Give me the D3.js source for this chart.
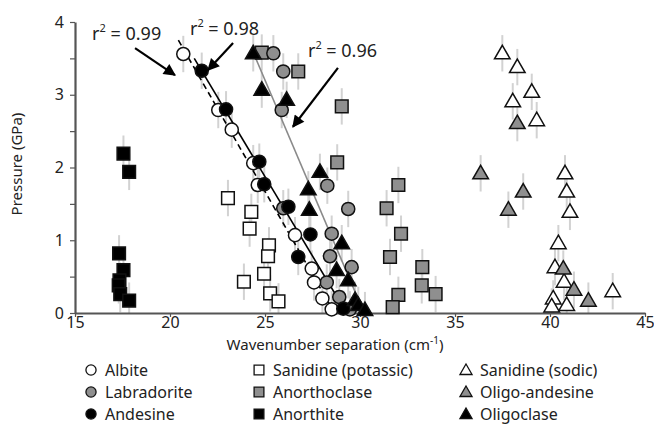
<!DOCTYPE html>
<html>
<head>
<meta charset="utf-8">
<script src="https://cdn.jsdelivr.net/npm/d3@7"></script>
<style>
  body { margin: 0; background: #fff; }
  svg { display: block; font-family: "Noto Sans", "Open Sans", sans-serif; }
</style>
</head>
<body>
<div id="chart"></div>
<script>
// ====== data (wavenumber cm-1, pressure GPa) ======
const albite = [[20.70,3.56],[22.54,2.79],[23.25,2.52],[24.38,2.06],[24.62,1.76],[26.58,1.07],[27.46,0.61],[27.58,0.42],[28.02,0.20],[28.51,0.05]];
const labradorite = [[25.44,3.57],[25.96,3.32],[25.88,2.79],[28.28,1.75],[29.38,1.43],[25.96,1.44],[28.51,1.09],[28.42,0.78],[29.56,0.63],[28.25,0.42],[28.91,0.22],[29.47,0.05]];
const andesine = [[21.67,3.33],[22.95,2.80],[24.70,2.08],[24.96,1.77],[26.23,1.46],[27.39,1.08],[26.75,0.77],[29.12,0.06]];
const sanidineK = [[23.05,1.58],[24.28,1.39],[24.19,1.16],[25.21,0.93],[25.16,0.78],[24.95,0.54],[23.89,0.43],[25.27,0.27],[25.71,0.16]];
const anorthoclase = [[24.83,3.58],[26.75,3.32],[29.04,2.84],[28.80,2.07],[32.02,1.76],[31.40,1.44],[32.16,1.09],[31.58,0.77],[33.28,0.63],[33.25,0.38],[33.98,0.26],[32.02,0.25],[31.72,0.08]];
const anorthite = [[17.55,2.19],[17.85,1.94],[17.32,0.82],[17.55,0.59],[17.34,0.45],[17.30,0.38],[17.38,0.26],[17.85,0.17]];
const sanidineNa = [[37.49,3.57],[38.28,3.38],[39.04,3.04],[38.04,2.91],[39.30,2.65],[40.79,1.92],[40.88,1.67],[41.05,1.39],[40.44,0.96],[40.26,0.63],[40.74,0.43],[43.30,0.30],[40.17,0.20],[40.09,0.09],[40.88,0.11]];
const oligoAndesine = [[38.28,2.61],[36.35,1.92],[38.59,1.67],[37.81,1.42],[40.70,0.61],[41.26,0.32],[42.02,0.17]];
const oligoclase = [[24.38,3.57],[24.83,3.07],[26.14,2.93],[27.89,1.94],[27.28,1.70],[27.33,1.42],[29.04,0.96],[28.77,0.59],[29.38,0.45],[29.74,0.18],[29.91,0.11],[30.26,0.04]];

const errPressure = 0.25;   // half length of the grey error bars (GPa)

// regression lines: series, top pressure of the drawn line, style
const fits = [
  { data: albite,     top: 3.75, stroke: "#000", dash: "6,4" },
  { data: andesine,   top: 3.50, stroke: "#000", dash: null },
  { data: oligoclase, top: 3.60, stroke: "#8a8a8a", dash: null }
];

// r² annotations: text anchor + arrow (data coords)
const notes = [
  { r2: "0.99", tx: 15.9, ty: 3.75, from: [18.16,3.64], to: [20.26,3.27] },
  { r2: "0.98", tx: 21.05, ty: 3.82, from: [23.32,3.71], to: [22.00,3.34] },
  { r2: "0.96", tx: 27.26, ty: 3.52, from: [28.84,3.37], to: [26.47,2.56] }
];

const xTicks = [15, 20, 25, 30, 35, 40, 45];
const yTicks = [0, 0.5, 1, 1.5, 2, 2.5, 3, 3.5, 4];

const GREY = "#8f8f8f";
const series = [
  { name: "Albite",               data: albite,        shape: "circle",   fill: "#fff" },
  { name: "Labradorite",          data: labradorite,   shape: "circle",   fill: GREY },
  { name: "Andesine",             data: andesine,      shape: "circle",   fill: "#000" },
  { name: "Sanidine (potassic)",  data: sanidineK,     shape: "square",   fill: "#fff" },
  { name: "Anorthoclase",         data: anorthoclase,  shape: "square",   fill: GREY },
  { name: "Anorthite",            data: anorthite,     shape: "square",   fill: "#000" },
  { name: "Sanidine (sodic)",     data: sanidineNa,    shape: "triangle", fill: "#fff" },
  { name: "Oligo-andesine",       data: oligoAndesine, shape: "triangle", fill: GREY },
  { name: "Oligoclase",           data: oligoclase,    shape: "triangle", fill: "#000" }
];
// draw order in plot (last on top)
const drawOrder = [5, 3, 4, 6, 7, 1, 0, 2, 8];

const W = 654, H = 447;
const svg = d3.select("#chart").append("svg").attr("width", W).attr("height", H);
svg.append("rect").attr("width", W).attr("height", H).attr("fill", "#fff");

const x = d3.scaleLinear().domain([15, 45]).range([75, 645]);
const y = d3.scaleLinear().domain([0, 4]).range([313, 22]);

const symType = { circle: d3.symbolCircle, square: d3.symbolSquare, triangle: d3.symbolTriangle };
const symSize = { circle: 135, square: 160, triangle: 105 };
const sym = (shape, k) => d3.symbol().type(symType[shape]).size(symSize[shape] * (k || 1))();

// error bars
const gErr = svg.append("g");
series.forEach(s => {
  gErr.selectAll(null).data(s.data).enter().append("line")
    .attr("x1", d => x(d[0])).attr("x2", d => x(d[0]))
    .attr("y1", d => y(Math.min(4, d[1] + errPressure)))
    .attr("y2", d => y(Math.max(0, d[1] - errPressure)))
    .attr("stroke", "#d2d2d2").attr("stroke-width", 2);
});

// axes
const yAxis = svg.append("g").attr("transform", "translate(75,0)")
  .call(d3.axisLeft(y).tickValues(yTicks).tickSize(5).tickSizeOuter(0)
    .tickFormat(d => Number.isInteger(d) ? d : ""));
const xAxis = svg.append("g").attr("transform", "translate(0,313)")
  .call(d3.axisBottom(x).tickValues(xTicks).tickSize(4).tickSizeOuter(0));
[yAxis, xAxis].forEach(a => {
  a.select(".domain").attr("stroke", "#555").attr("stroke-width", 2.2);
  a.selectAll(".tick line").attr("stroke", "#555").attr("stroke-width", 1.2);
  a.selectAll("text").attr("fill", "#222").attr("font-size", 16)
    .attr("font-family", "Noto Sans, sans-serif");
});
yAxis.selectAll("text").attr("x", -11);
xAxis.selectAll("text").attr("y", 4);

svg.append("text")
  .attr("transform", "translate(22,164) rotate(-90)")
  .attr("text-anchor", "middle").attr("font-size", 15).attr("fill", "#222")
  .text("Pressure (GPa)");

const xt = svg.append("text")
  .attr("x", 335).attr("y", 350).attr("text-anchor", "middle")
  .attr("font-size", 15).attr("fill", "#222")
  .text("Wavenumber separation (cm");
xt.append("tspan").attr("font-size", 10).attr("dy", -6).text("-1");
xt.append("tspan").attr("dy", 6).text(")");

// regression lines (least squares, pressure on wavenumber)
const gFit = svg.append("g");
fits.forEach(f => {
  const xs = f.data.map(d => d[0]), ys = f.data.map(d => d[1]);
  const mx = d3.mean(xs), my = d3.mean(ys);
  const b = d3.sum(xs, (v, i) => (v - mx) * (ys[i] - my)) / d3.sum(xs, v => (v - mx) ** 2);
  const a = my - b * mx;
  const ends = [f.top, 0].map(p => [(p - a) / b, p]);
  gFit.append("path")
    .attr("d", d3.line().x(d => x(d[0])).y(d => y(d[1]))(ends))
    .attr("stroke", f.stroke).attr("stroke-width", 1.6).attr("fill", "none")
    .attr("stroke-dasharray", f.dash);
});

// markers
const gPts = svg.append("g");
drawOrder.forEach(i => {
  const s = series[i];
  gPts.selectAll(null).data(s.data).enter().append("path")
    .attr("d", sym(s.shape))
    .attr("transform", d => `translate(${x(d[0])},${y(d[1]) + (s.shape === "triangle" ? 1 : 0)})`)
    .attr("fill", s.fill).attr("stroke", "#111").attr("stroke-width", 1.5);
});

// annotations
const defs = svg.append("defs");
defs.append("marker").attr("id", "ah").attr("viewBox", "0 0 10 10")
  .attr("refX", 9).attr("refY", 5).attr("markerWidth", 6.5).attr("markerHeight", 5.5)
  .attr("orient", "auto")
  .append("path").attr("d", "M0,0L10,5L0,10Z").attr("fill", "#000");

const gNote = svg.append("g");
notes.forEach(n => {
  gNote.append("line")
    .attr("x1", x(n.from[0])).attr("y1", y(n.from[1]))
    .attr("x2", x(n.to[0])).attr("y2", y(n.to[1]))
    .attr("stroke", "#000").attr("stroke-width", 2.2).attr("marker-end", "url(#ah)");
  const t = gNote.append("text").attr("x", x(n.tx)).attr("y", y(n.ty))
    .attr("font-size", 18).attr("fill", "#222");
  t.append("tspan").text("r");
  t.append("tspan").attr("font-size", 11).attr("dy", -8).text("2");
  t.append("tspan").attr("dy", 8).text(" = " + n.r2);
});

// legend 3 x 3
const legCols = [91, 259, 466];
const legRows = [370, 392, 414];
const gLeg = svg.append("g");
series.forEach((s, i) => {
  const cx = legCols[Math.floor(i / 3)], cy = legRows[i % 3];
  gLeg.append("path").attr("d", sym(s.shape, 0.6))
    .attr("transform", `translate(${cx},${cy + (s.shape === "triangle" ? 1 : 0)})`)
    .attr("fill", s.fill).attr("stroke", "#111").attr("stroke-width", 1.3);
  gLeg.append("text").attr("x", cx + 14).attr("y", cy).attr("dy", "0.35em")
    .attr("font-size", 16).attr("fill", "#222").text(s.name);
});
</script>
</body>
</html>
